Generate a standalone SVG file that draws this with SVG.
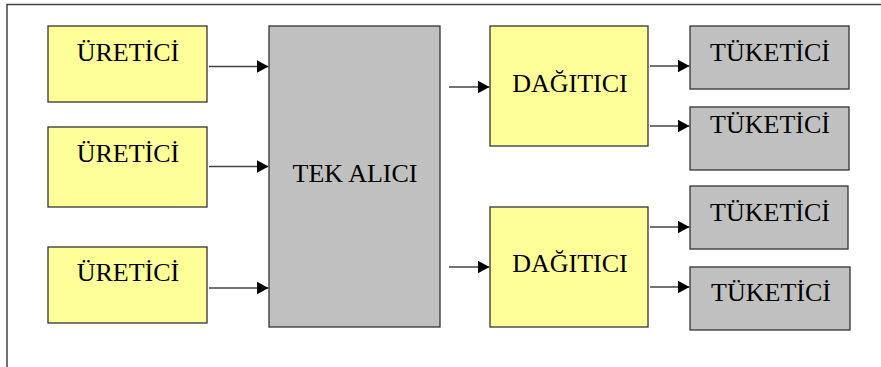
<svg xmlns="http://www.w3.org/2000/svg" width="881" height="367" viewBox="0 0 881 367">
<style>
.frame{stroke:#444;stroke-width:1.5;fill:none}
.y{fill:#FFFF99;stroke:#333;stroke-width:1.3}
.g{fill:#C0C0C0;stroke:#333;stroke-width:1.3}
.t{font-family:"Liberation Serif","Times New Roman",serif;font-size:26px;fill:#000;text-anchor:middle}
.c{stroke:#444;stroke-width:1.7;fill:none;marker-end:url(#ah)}
</style>
<defs>
<marker id="ah" viewBox="0 0 12 13" refX="12" refY="6.5" markerWidth="12" markerHeight="13" markerUnits="userSpaceOnUse" orient="auto">
<path d="M0,0 L12,6.5 L0,13 Z" fill="#000"/>
</marker>
</defs>
<rect width="881" height="367" fill="#fff"/>
<path class="frame" d="M7,367 V4.5 H881"/>
<g id="uretici1"><rect class="y" x="48" y="26" width="159" height="76"/><text class="t" x="128" y="61">ÜRETİCİ</text></g>
<g id="uretici2"><rect class="y" x="48" y="127" width="159" height="80"/><text class="t" x="128" y="162">ÜRETİCİ</text></g>
<g id="uretici3"><rect class="y" x="48" y="247" width="159" height="76"/><text class="t" x="128" y="281">ÜRETİCİ</text></g>
<g id="tekalici"><rect class="g" x="269" y="26" width="171" height="301"/><text class="t" x="355" y="182">TEK ALICI</text></g>
<g id="dagitici1"><rect class="y" x="490" y="26" width="158" height="120"/><text class="t" x="570" y="92">DAĞITICI</text></g>
<g id="dagitici2"><rect class="y" x="490" y="207" width="158" height="120"/><text class="t" x="570" y="272">DAĞITICI</text></g>
<g id="tuketici1"><rect class="g" x="690" y="26" width="159" height="63"/><text class="t" x="770" y="61">TÜKETİCİ</text></g>
<g id="tuketici2"><rect class="g" x="690" y="107" width="159" height="63"/><text class="t" x="770" y="133">TÜKETİCİ</text></g>
<g id="tuketici3"><rect class="g" x="690" y="186" width="158" height="63"/><text class="t" x="770" y="221">TÜKETİCİ</text></g>
<g id="tuketici4"><rect class="g" x="690" y="267" width="160" height="63"/><text class="t" x="771" y="301">TÜKETİCİ</text></g>
<g id="connectors">
<path class="c" d="M209,66.5 H268.5"/>
<path class="c" d="M209,166.5 H268.5"/>
<path class="c" d="M209,288 H268.5"/>
<path class="c" d="M449,87 H489.5"/>
<path class="c" d="M449,267 H489.5"/>
<path class="c" d="M650,66 H689.5"/>
<path class="c" d="M650,126 H689.5"/>
<path class="c" d="M650,227 H689.5"/>
<path class="c" d="M650,287 H689.5"/>
</g>
</svg>
